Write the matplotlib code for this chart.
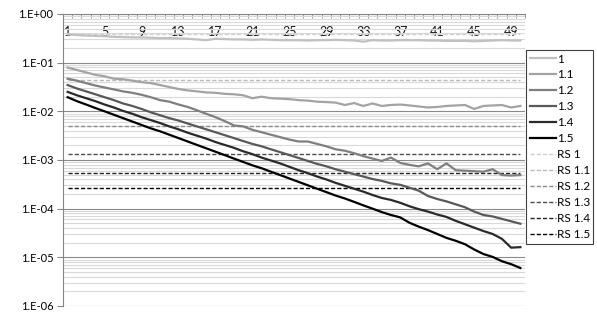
import matplotlib
matplotlib.use("Agg")
import matplotlib.pyplot as plt
import matplotlib.ticker as mticker
import numpy as np

# %% Style
AXIS_COLOR = "#868686"
plt.rcParams.update(
    {
        "font.family": ["Lato", "DejaVu Sans"],
        "font.size": 8.5,
        "axes.edgecolor": AXIS_COLOR,
        "xtick.color": AXIS_COLOR,
        "ytick.color": AXIS_COLOR,
        "xtick.labelcolor": "black",
        "ytick.labelcolor": "black",
    }
)

# %% Data
iterations = list(range(1, 51))

s_1 = [0.38, 0.37, 0.36, 0.355, 0.35, 0.34, 0.335, 0.33, 0.33, 0.325,
       0.32, 0.32, 0.315, 0.31, 0.30, 0.29, 0.31, 0.305, 0.30, 0.30,
       0.295, 0.30, 0.295, 0.29, 0.29, 0.29, 0.285, 0.29, 0.29, 0.295,
       0.29, 0.285, 0.27, 0.29, 0.285, 0.285, 0.29, 0.29, 0.29, 0.285,
       0.285, 0.28, 0.28, 0.28, 0.275, 0.28, 0.285, 0.29, 0.285, 0.285]

s_1_1 = [0.0794, 0.0708, 0.0631, 0.0562, 0.0525, 0.0468, 0.0457, 0.0427, 0.0398, 0.0380,
         0.0347, 0.0316, 0.0288, 0.0269, 0.0257, 0.0245, 0.0240, 0.0229, 0.0224, 0.0214,
         0.0186, 0.0200, 0.0186, 0.0182, 0.0178, 0.0170, 0.0166, 0.0158, 0.0155, 0.0151,
         0.0135, 0.0148, 0.0129, 0.0145, 0.0129, 0.0135, 0.0138, 0.0132, 0.0126, 0.0120,
         0.0123, 0.0129, 0.0132, 0.0135, 0.0112, 0.0129, 0.0132, 0.0135, 0.0120, 0.0129]

s_1_2 = [4.68e-2, 4.27e-2, 3.80e-2, 3.39e-2, 3.09e-2, 2.82e-2, 2.57e-2, 2.40e-2, 2.19e-2, 1.95e-2,
         1.70e-2, 1.58e-2, 1.38e-2, 1.23e-2, 1.05e-2, 8.91e-3, 7.59e-3, 6.31e-3, 5.13e-3, 4.90e-3,
         4.17e-3, 3.72e-3, 3.31e-3, 2.95e-3, 2.63e-3, 2.40e-3, 2.40e-3, 2.14e-3, 1.91e-3, 1.66e-3,
         1.55e-3, 1.38e-3, 1.20e-3, 1.07e-3, 9.55e-4, 1.12e-3, 8.71e-4, 7.94e-4, 7.41e-4, 8.51e-4,
         6.46e-4, 8.51e-4, 6.17e-4, 6.03e-4, 5.89e-4, 5.75e-4, 6.46e-4, 4.90e-4, 4.79e-4, 4.90e-4]

s_1_3 = [3.47e-2, 2.95e-2, 2.57e-2, 2.24e-2, 1.95e-2, 1.70e-2, 1.45e-2, 1.29e-2, 1.12e-2, 9.55e-3,
         8.32e-3, 7.24e-3, 6.46e-3, 5.62e-3, 4.90e-3, 4.27e-3, 3.72e-3, 3.24e-3, 2.82e-3, 2.45e-3,
         2.14e-3, 1.91e-3, 1.66e-3, 1.45e-3, 1.26e-3, 1.10e-3, 9.55e-4, 8.32e-4, 7.41e-4, 6.46e-4,
         5.75e-4, 5.13e-4, 4.57e-4, 4.07e-4, 3.72e-4, 3.31e-4, 3.09e-4, 2.69e-4, 2.34e-4, 1.82e-4,
         1.58e-4, 1.41e-4, 1.23e-4, 1.07e-4, 8.71e-5, 7.41e-5, 6.92e-5, 6.17e-5, 5.50e-5, 4.90e-5]

s_1_4 = [2.51e-2, 2.14e-2, 1.86e-2, 1.62e-2, 1.38e-2, 1.20e-2, 1.02e-2, 8.91e-3, 7.59e-3, 6.61e-3,
         5.75e-3, 4.90e-3, 4.27e-3, 3.63e-3, 3.16e-3, 2.75e-3, 2.34e-3, 2.04e-3, 1.78e-3, 1.51e-3,
         1.32e-3, 1.12e-3, 9.77e-4, 8.51e-4, 7.24e-4, 6.17e-4, 5.37e-4, 4.57e-4, 3.98e-4, 3.39e-4,
         2.95e-4, 2.57e-4, 2.24e-4, 1.91e-4, 1.66e-4, 1.51e-4, 1.32e-4, 1.12e-4, 9.77e-5, 8.71e-5,
         7.59e-5, 6.76e-5, 5.62e-5, 4.79e-5, 4.07e-5, 3.47e-5, 3.02e-5, 2.40e-5, 1.58e-5, 1.62e-5]

s_1_5 = [1.95e-2, 1.62e-2, 1.38e-2, 1.17e-2, 1.00e-2, 8.51e-3, 7.24e-3, 6.17e-3, 5.25e-3, 4.47e-3,
         3.89e-3, 3.31e-3, 2.82e-3, 2.40e-3, 2.04e-3, 1.74e-3, 1.48e-3, 1.26e-3, 1.07e-3, 9.12e-4,
         7.76e-4, 6.76e-4, 5.75e-4, 4.90e-4, 4.17e-4, 3.55e-4, 3.02e-4, 2.57e-4, 2.19e-4, 1.86e-4,
         1.62e-4, 1.38e-4, 1.17e-4, 1.00e-4, 8.51e-5, 7.41e-5, 6.61e-5, 5.13e-5, 4.27e-5, 3.63e-5,
         3.02e-5, 2.51e-5, 2.19e-5, 1.86e-5, 1.45e-5, 1.17e-5, 1.02e-5, 8.32e-6, 7.24e-6, 6.03e-6]

series_labels = ["1", "1.1", "1.2", "1.3", "1.4", "1.5"]
series_values = [s_1, s_1_1, s_1_2, s_1_3, s_1_4, s_1_5]
rs_labels = ["RS 1", "RS 1.1", "RS 1.2", "RS 1.3", "RS 1.4", "RS 1.5"]
rs_values = [0.386, 0.0434, 5.1e-3, 1.32e-3, 5.5e-4, 2.7e-4]
x_tick_labels = [1, 5, 9, 13, 17, 21, 25, 29, 33, 37, 41, 45, 49]

COLORS = ["#c0c0c0", "#a3a3a3", "#7f7f7f", "#595959", "#2a2a2a", "#000000"]
RS_COLORS = ["#d0d0d0", "#bababa", "#8c8c8c", "#4d4d4d", "#262626", "#000000"]

# %% Plot
fig = plt.figure(figsize=(5.97, 3.16), dpi=100)
ax = fig.add_axes([63 / 597, 1 - 306 / 316, 462 / 597, 292 / 316])

for vals, lab, col in zip(series_values, series_labels, COLORS):
    ax.plot(iterations, vals, color=col, lw=1.6, label=lab, zorder=3)
for val, lab, col in zip(rs_values, rs_labels, RS_COLORS):
    ax.plot(iterations, [val] * len(iterations), color=col, lw=1.0,
            ls=(0, (3, 1.5)), label=lab, zorder=2)

ax.set_yscale("log")
ax.set_ylim(1e-6, 1)
ax.set_xlim(0.5, 50.5)

ax.yaxis.set_major_locator(mticker.LogLocator(base=10, numticks=10))
ax.yaxis.set_minor_locator(mticker.LogLocator(base=10, subs=np.arange(2, 10), numticks=20))
ax.yaxis.set_major_formatter(
    mticker.FuncFormatter(lambda v, p: "1.E%+03d" % int(round(np.log10(v))))
)
ax.yaxis.set_minor_formatter(mticker.NullFormatter())
ax.tick_params(axis="y", which="major", direction="out", length=4, pad=3, labelsize=8)
ax.tick_params(axis="y", which="minor", length=0)

ax.grid(True, which="major", axis="y", color="#8a8a8a", lw=0.8, zorder=0)
ax.grid(True, which="minor", axis="y", color="#d9d9d9", lw=0.8, zorder=0)

# category axis sits at the top (y = 1), labels drawn under it
ax.xaxis.set_ticks_position("top")
ax.set_xticks(x_tick_labels)
ax.set_xticklabels([str(v) for v in x_tick_labels])
ax.set_xticks(np.arange(0.5, 51, 1), minor=True)
ax.tick_params(axis="x", which="major", length=0, pad=-17, top=True, labeltop=True,
               bottom=False, labelbottom=False, labelsize=9, labelcolor="#111111")
ax.tick_params(axis="x", which="minor", direction="in", length=3, top=True, bottom=False)

ax.spines["right"].set_visible(False)
ax.spines["bottom"].set_visible(False)

leg = ax.legend(loc="upper left", bbox_to_anchor=(526 / 597, 1 - 50 / 316),
                bbox_transform=fig.transFigure, borderaxespad=0, fancybox=False,
                framealpha=1, edgecolor="#404040", fontsize=8.5, labelspacing=0.42,
                handlelength=2.2, handletextpad=0.1, borderpad=0.3)
leg.get_frame().set_linewidth(0.8)

fig.savefig("out.png", dpi=100)
